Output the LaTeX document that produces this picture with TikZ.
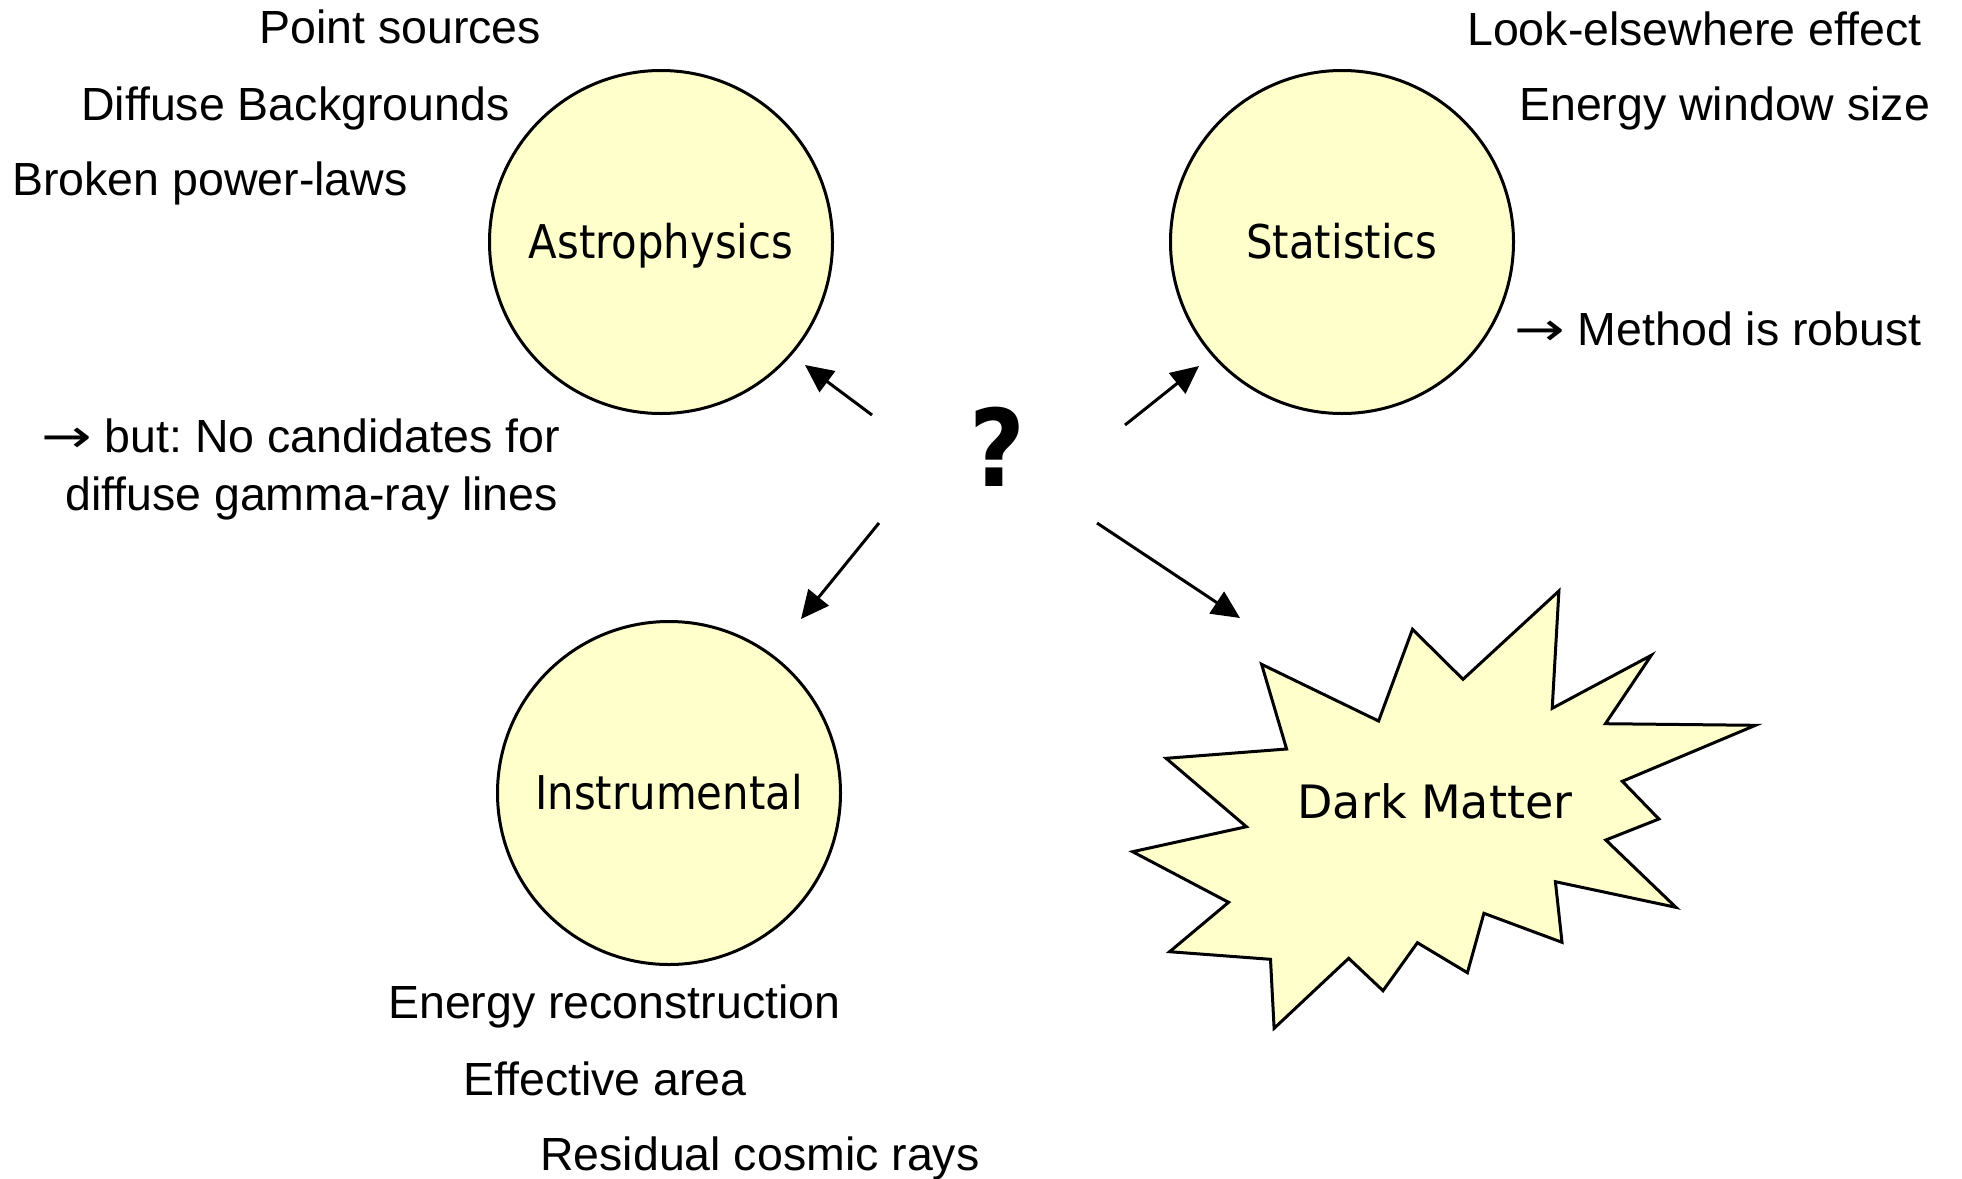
\documentclass[tikz,border=0pt]{standalone}
\usepackage{fontspec}
\setmainfont{Liberation Sans}
\newfontfamily\dmlabelfont{DejaVu Sans Condensed}
\newfontfamily\dmstarfont{DejaVu Sans}
\usepackage{xcolor}
\usepackage{tikz}
\usetikzlibrary{arrows.meta}
\definecolor{dmyellow}{HTML}{FFFFCC}
\newcommand{\dmto}{\scalebox{1.3}[1]{\dmstarfont →}}
\frenchspacing
\tikzset{
  dmcircle/.style={circle, draw=black, fill=dmyellow, line width=3pt, minimum size=343pt, inner sep=0pt, font=\dmlabelfont\fontsize{46.5}{50}\selectfont, text height=33pt, text depth=0pt},
  dmstar/.style={draw=black, fill=dmyellow, line width=3pt, line join=miter},
  dmarrow/.style={line width=3pt, draw=black, -{Triangle[length=28pt,width=26pt]}},
  dmnote/.style={anchor=base west, inner sep=0pt, font=\fontsize{46.5}{50}\selectfont},
  dmquery/.style={inner sep=0pt, font=\dmlabelfont\bfseries\fontsize{107}{110}\selectfont},
  dmname/.style={inner sep=0pt, font=\dmstarfont\fontsize{46}{50}\selectfont},
}

\begin{document}
\begin{tikzpicture}[x=1pt, y=-1pt]
\useasboundingbox (0,0) rectangle (1962,1178);
\node[dmcircle] (astro) at (661,242) {Astrophysics};
\node[dmcircle] (stat) at (1342,242) {Statistics};
\node[dmcircle] (instr) at (669,793) {Instrumental};
\draw[dmstar] (1261.6,664.3) -- (1378.6,721.0) -- (1412.5,629.3) -- (1463.0,679.3)
  -- (1558.9,591.0) -- (1552.2,708.3) -- (1651.3,655.3) -- (1605.4,723.7)
  -- (1755.4,725.3) -- (1622.3,781.3) -- (1658.9,819.0) -- (1605.8,840.0)
  -- (1675.9,907.3) -- (1555.4,881.7) -- (1562.0,942.3) -- (1483.9,913.3)
  -- (1467.4,972.7) -- (1417.4,942.7) -- (1383.0,990.7) -- (1348.7,958.3)
  -- (1274.1,1028.3) -- (1270.5,959.3) -- (1169.6,951.7) -- (1228.6,902.3)
  -- (1132.6,851.7) -- (1246.4,826.7) -- (1166.1,758.3) -- (1286.6,749.0) -- cycle;
\node[dmname] (dm) at (1435,801) {Dark Matter};
\node[dmquery] (query) at (997,447) {?};
\coordinate (qastro) at (872,415);
\coordinate (tastro) at (805,365);
\coordinate (qstat) at (1125,425);
\coordinate (tstat) at (1199,366);
\coordinate (qinstr) at (879,523);
\coordinate (tinstr) at (801,619);
\coordinate (qdm) at (1097,523);
\coordinate (tdm) at (1240,618);
\draw[dmarrow] (qastro) -- (tastro);
\draw[dmarrow] (qstat) -- (tstat);
\draw[dmarrow] (qinstr) -- (tinstr);
\draw[dmarrow] (qdm) -- (tdm);
\node[dmnote] (pointsrc) at (259,43.5) {Point sources};
\node[dmnote] (diffbg) at (81,120) {Diffuse Backgrounds};
\node[dmnote] (brokenpl) at (12,195) {Broken power-laws};
\node[dmnote] (nocand) at (41,452) {\dmto{} but: No candidates for};
\node[dmnote] (difflines) at (65,510) {diffuse gamma-ray lines};
\node[dmnote] (ereco) at (388,1018) {Energy reconstruction};
\node[dmnote] (effarea) at (463,1095) {Effective area};
\node[dmnote] (cosmic) at (540,1170) {Residual cosmic rays};
\node[dmnote] (lee) at (1467,45) {Look-elsewhere effect};
\node[dmnote] (ewin) at (1519,120) {Energy window size};
\node[dmnote] (robust) at (1514,345) {\dmto{} Method is robust};
\end{tikzpicture}
\end{document}
